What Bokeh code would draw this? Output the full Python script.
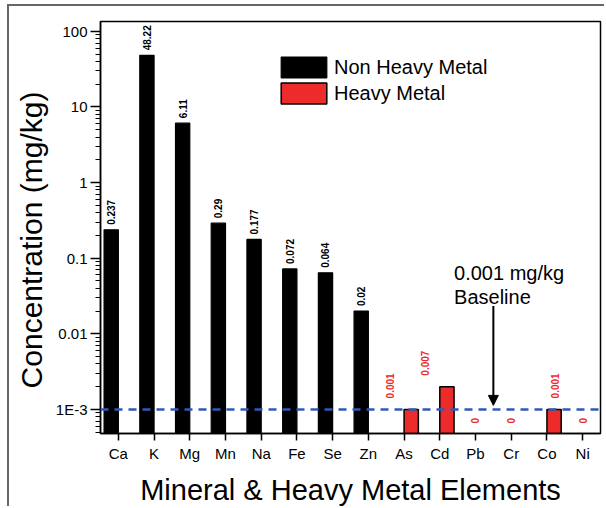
from bokeh.plotting import figure
from bokeh.models import (ColumnDataSource, LabelSet, Label, Span, Arrow, NormalHead,
                          CustomJSTickFormatter, FactorRange, Range1d)
from bokeh.core.properties import value
from bokeh.transform import dodge
from bokeh.embed import file_html
from bokeh.resources import INLINE

# ---------------- data ----------------
elements = ["Ca", "K", "Mg", "Mn", "Na", "Fe", "Se", "Zn", "As", "Cd", "Pb", "Cr", "Co", "Ni"]

non_heavy_elements = ["Ca", "K", "Mg", "Mn", "Na", "Fe", "Se", "Zn"]
non_heavy_values = [0.237, 48.22, 6.11, 0.29, 0.177, 0.072, 0.064, 0.02]
non_heavy_labels = ["0.237", "48.22", "6.11", "0.29", "0.177", "0.072", "0.064", "0.02"]

heavy_elements = ["As", "Cd", "Pb", "Cr", "Co", "Ni"]
heavy_values = [0.001, 0.002, 0.0, 0.0, 0.001, 0.0]
heavy_labels = ["0.001", "0.007", "0", "0", "0.001", "0"]

baseline_value = 0.001

# ---------------- style / layout constants ----------------
FONT = "Liberation Sans"
RED = "#EE2B2B"
BLUE = "#2F5BB7"
heavy_label_shift = [-0.39, -0.41, 0.0, 0.0, 0.24, 0.0]   # label x shifts (category units)
ZERO_LABEL_Y = 6.5e-4
NBSP = "\u00a0"

p = figure(x_range=FactorRange(*elements), y_axis_type="log",
           y_range=Range1d(4.8e-4, 135),
           width=597, height=502, output_backend="svg", toolbar_location=None,
           min_border_left=91, min_border_right=6, min_border_top=15, min_border_bottom=75)
p.styles = {"margin-left": "7px", "margin-top": "4px",
            "border-left": "2px solid #666666", "border-top": "2px solid #666666"}
p.x_range.range_padding = 0
p.x_range.factor_padding = 0

p.xgrid.grid_line_color = None
p.ygrid.grid_line_color = None
p.outline_line_color = "black"
p.outline_line_width = 1.5
p.background_fill_color = "white"
p.border_fill_color = "white"

# bars
src_nh = ColumnDataSource(dict(el=non_heavy_elements, val=non_heavy_values, lab=non_heavy_labels))
p.vbar(x=dodge("el", -0.2, range=p.x_range), top="val", bottom=1e-6, width=0.4,
       source=src_nh, fill_color="black", line_color="black", line_width=1.2,
       legend_label="Non Heavy Metal")

hv_el = [e for e, v in zip(heavy_elements, heavy_values) if v > 0]
hv_val = [v for v in heavy_values if v > 0]
src_h = ColumnDataSource(dict(el=hv_el, val=hv_val))
p.vbar(x=dodge("el", 0.2, range=p.x_range), top="val", bottom=1e-6, width=0.4,
       source=src_h, fill_color=RED, line_color="black", line_width=1.5,
       legend_label="Heavy Metal")

# baseline
p.add_layout(Span(location=baseline_value, dimension="width", line_color=BLUE,
                  line_dash="8 6", line_width=2.5))

# value labels
p.add_layout(LabelSet(x=dodge("el", -0.2, range=p.x_range), y="val", text="lab", source=src_nh,
                      angle=90, angle_units="deg", text_align="left", text_baseline="middle",
                      y_offset=5, text_font=value(FONT), text_font_size="10px",
                      text_font_style="bold", text_color="black"))

hl_x = [elements.index(e) + 0.5 + s for e, s in zip(heavy_elements, heavy_label_shift)]
hl_y = [v if v > 0 else ZERO_LABEL_Y for v in heavy_values]
hl_off = [11 if v > 0 else 0 for v in heavy_values]
src_hl = ColumnDataSource(dict(x=hl_x, y=hl_y, lab=heavy_labels, off=hl_off))
p.add_layout(LabelSet(x="x", y="y", text="lab", source=src_hl, y_offset="off",
                      angle=90, angle_units="deg", text_align="left", text_baseline="middle",
                      text_font=value(FONT), text_font_size="10px", text_font_style="bold",
                      text_color=RED))

# baseline annotation
p.add_layout(Label(x=9.9, y=0.0636, text="0.001 mg/kg", text_font=FONT,
                   text_font_size="20px", text_baseline="alphabetic", text_color="black"))
p.add_layout(Label(x=9.9, y=0.0307, text="Baseline", text_font=FONT,
                   text_font_size="20px", text_baseline="alphabetic", text_color="black"))
p.add_layout(Arrow(end=NormalHead(size=10, fill_color="black", line_color="black"),
                   x_start=11.0, y_start=0.0233, x_end=11.0, y_end=0.00113,
                   line_color="black", line_width=2))

# axes
p.yaxis.axis_label = "Concentration (mg/kg)" + NBSP * 3
p.xaxis.axis_label = "Mineral & Heavy Metal Elements"
for ax in (p.xaxis[0], p.yaxis[0]):
    ax.axis_label_text_font = FONT
    ax.axis_label_text_font_style = "normal"
    ax.axis_label_text_color = "black"
    ax.major_label_text_font = FONT
    ax.major_label_text_font_size = "15px"
    ax.major_label_text_color = "black"
    ax.axis_line_color = "black"
    ax.axis_line_width = 1.5
    ax.major_tick_line_color = "black"
    ax.major_tick_line_width = 1.5
    ax.minor_tick_line_color = "black"
    ax.major_tick_in = 0
p.yaxis.axis_label_text_font_size = "30px"
p.xaxis.axis_label_text_font_size = "29px"

p.yaxis.major_tick_out = 10
p.yaxis.minor_tick_out = 5
p.yaxis.minor_tick_in = 0
p.yaxis.major_label_standoff = 3
p.yaxis.axis_label_standoff = 5
p.yaxis.formatter = CustomJSTickFormatter(code="""
if (Math.abs(Math.log10(tick) + 3) < 1e-6) { return "1E-3"; }
return String(parseFloat(tick.toPrecision(6)));
""")

p.xaxis.major_tick_out = 7
p.xaxis.major_label_standoff = 4
p.xaxis.axis_label_standoff = 9

# legend
lg = p.legend[0]
lg.location = (175, 327)
lg.glyph_width = 57
lg.glyph_height = 26
lg.spacing = 0
lg.padding = 0
lg.margin = 0
lg.border_line_color = None
lg.background_fill_alpha = 0
lg.label_text_font = FONT
lg.label_text_font_size = "20px"
lg.label_text_color = "black"
lg.label_standoff = 2
lg.label_height = 26

open("out.html", "w").write(file_html(p, INLINE))
